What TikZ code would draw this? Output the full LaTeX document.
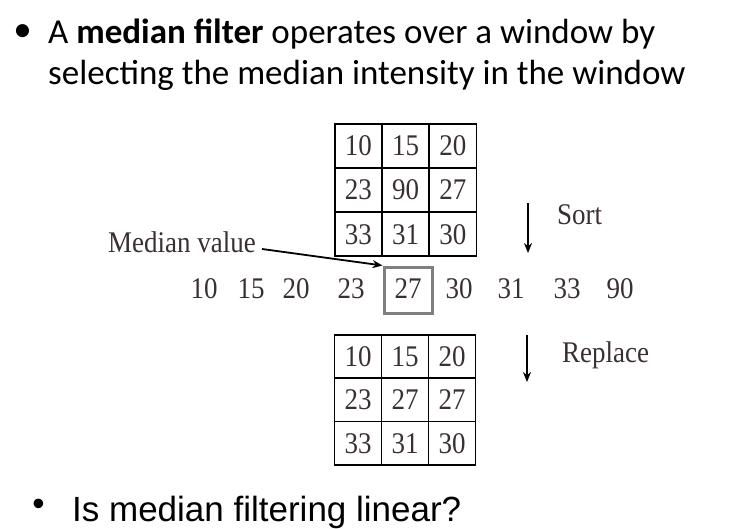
\documentclass[tikz,border=0pt]{standalone}
\usepackage{fontspec}
\setmainfont{Liberation Serif}
\newfontfamily\calibri{Carlito}
\newfontfamily\arialfont{Liberation Sans}
\newfontfamily\figfont[FakeStretch=0.9]{Liberation Serif}
\usetikzlibrary{arrows.meta}
\definecolor{inkgray}{RGB}{58,48,52}
\definecolor{boxgray}{RGB}{128,128,128}
\tikzset{
  cell/.style={draw,line width=1.6pt,minimum width=47pt,minimum height=44pt,inner sep=0pt,
    text height=20pt,text depth=0pt,font=\figfont\fontsize{30}{32}\selectfont,text=inkgray},
  num/.style={anchor=base,inner sep=0pt,font=\figfont\fontsize{30}{32}\selectfont,text=inkgray},
  lbl/.style={inner sep=0pt,font=\figfont\fontsize{30}{32}\selectfont,text=inkgray},
  head/.style={anchor=base west,inner sep=0pt,font=\calibri\fontsize{35}{41}\selectfont},
  arr/.style={-{Stealth[length=10pt,width=8pt]},line width=2.6pt}
}

\begin{document}
\begin{tikzpicture}[x=1pt,y=-1pt]
  \useasboundingbox (0,0) rectangle (746,529);
  % heading
  \node[inner sep=0pt,font=\calibri\fontsize{37}{41}\selectfont] (bul1) at (22.5,33) {•};
  \node[head] (head1) at (48,44) {A \textbf{median filter} operates over a window by};
  \node[head] (head2) at (48,85) {selecting the median intensity in the window};
  % window before
  \foreach \row [count=\r] in {{10,15,20},{23,90,27},{33,31,30}}
    \foreach \v [count=\c] in \row
      \node[cell] (a\r\c) at ({311+47.3*\c},{102+44*\r}) {\v};
  % sorted values
  \foreach \v/\x [count=\k] in {10/204,15/251,20/296,23/351,27/408,30/459,31/511,33/567,90/620}
    \node[num] (s\k) at (\x,298) {\v};
  \node[draw=boxgray,line width=3pt,minimum width=48pt,minimum height=46pt] (medbox) at (408,290) {};
  \node[lbl,anchor=base east] (medlbl) at (256,252) {Median value};
  \coordinate (mstart) at (262,249);
  \draw[arr,line width=1.8pt] (mstart) -- (medbox.north west);
  % sort
  \coordinate (sorttop) at (528,203);
  \coordinate (sortend) at (528,253);
  \draw[arr] (sorttop) -- (sortend);
  \node[lbl,anchor=base west] (sortlbl) at (557,225) {Sort};
  % window after
  \foreach \row [count=\r] in {{10,15,20},{23,27,27},{33,31,30}}
    \foreach \v [count=\c] in \row
      \node[cell,minimum height=43.3pt] (b\r\c) at ({311+47*\c},{313.3+43.3*\r}) {\v};
  \coordinate (reptop) at (527,335);
  \coordinate (repend) at (527,382);
  \draw[arr] (reptop) -- (repend);
  \node[lbl,anchor=base west] (replbl) at (562,362) {Replace};
  % question
  \node[inner sep=0pt,font=\arialfont\fontsize{35}{40}\selectfont] (bul2) at (38.5,507) {•};
  \node[anchor=base west,inner sep=0pt,font=\arialfont\fontsize{35}{40}\selectfont] (quest) at (72,521) {Is median filtering linear?};
\end{tikzpicture}
\end{document}
